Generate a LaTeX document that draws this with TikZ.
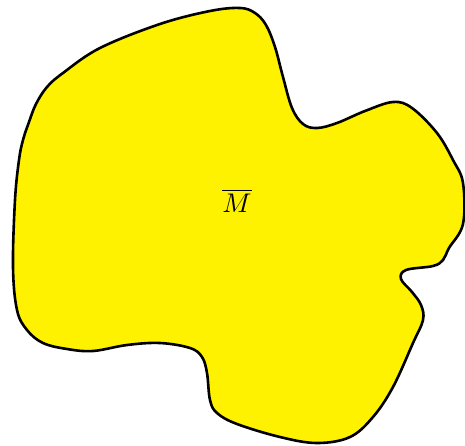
\documentclass[tikz,border=0pt]{standalone}
\definecolor{blobyellow}{RGB}{255,242,0}
\tikzset{blob/.style={draw=black,fill=blobyellow,line width=2.6pt,line join=round}}
\begin{document}
\begin{tikzpicture}[x=1pt,y=-1pt]
\useasboundingbox (0,0) rectangle (465,445);
\draw[blob] plot[smooth cycle,tension=0.6] coordinates{
(47,87) (63,73) (100,48) (160,24) (210,11) (240,8) (255,13) (266,25) (275,47) (283,77) (292,108)
(303,124) (317,128) (337,123) (365,111) (393,102) (412,108) (437,133) (453,160) (463,183) (463,224)
(449,248) (443,260) (433,266) (406,270) (401,279) (412,292) (421,305) (423,320) (413,343)
(393,387) (373,417) (350,437) (317,443) (280,437) (237,424) (217,413) (210,400) (207,373)
(202,357) (190,348) (160,343) (127,345) (93,351) (67,349) (43,343) (27,330) (17,310)
(13,267) (15,200) (19,160) (23,140) (29,122) (36,104)};
\node[scale=2.7] (label) at (237,201) {$\overline{M}$};
\end{tikzpicture}
\end{document}
